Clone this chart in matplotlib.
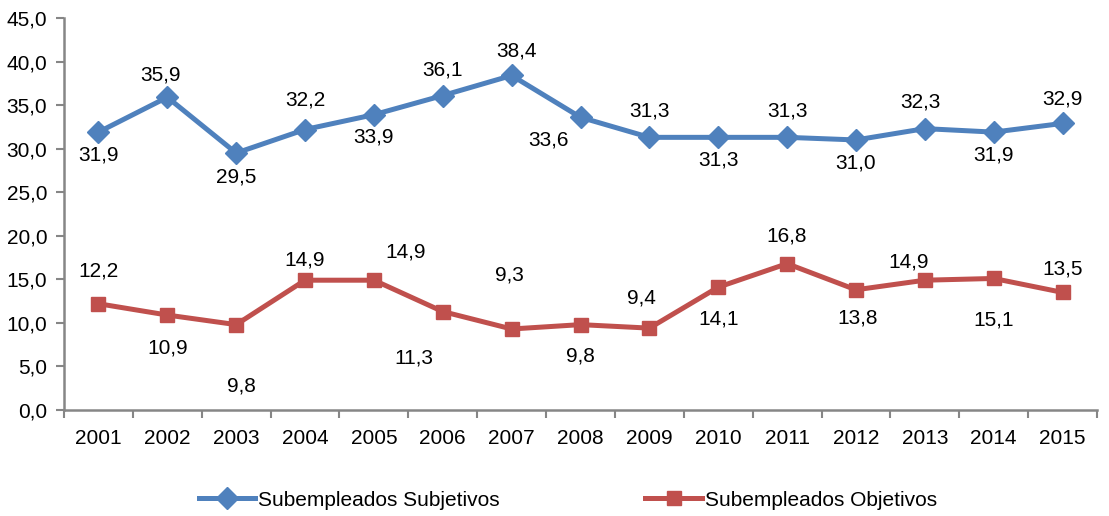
import numpy as np
import matplotlib.pyplot as plt
from matplotlib.ticker import FixedLocator, MultipleLocator, FuncFormatter

plt.rcParams['font.family'] = ['Liberation Sans Narrow', 'Liberation Sans', 'DejaVu Sans']

# Data
years = [str(y) for y in range(2001, 2016)]
subjetivos = [31.9, 35.9, 29.5, 32.2, 33.9, 36.1, 38.4, 33.6, 31.3, 31.3, 31.3, 31.0, 32.3, 31.9, 32.9]
objetivos = [12.2, 10.9, 9.8, 14.9, 14.9, 11.3, 9.3, 9.8, 9.4, 14.1, 16.8, 13.8, 14.9, 15.1, 13.5]

# Label offsets in pixels (dx, dy image-down)
off_subj = [(0, 23), (-7, -22), (0, 24), (0, -30), (0, 22), (0, -26), (5, -24), (-32, 23),
            (0, -26), (0, 23), (0, -26), (0, 23), (-4, -27), (0, 23), (0, -24)]
off_obj = [(0, -33), (0, 33), (5, 61), (0, -20), (32, -28), (-29, 46), (-2, -54), (0, 31),
           (-8, -30), (0, 32), (0, -28), (2, 28), (-16, -18), (0, 42), (0, -23)]

blue = '#4F81BD'
red = '#C0504D'
axis_col = '#868686'
fs = 15

fig = plt.figure(figsize=(11.09, 5.16), dpi=100)
ax = fig.add_axes([64 / 1109, 1 - 410 / 516, (1097 - 64) / 1109, (410 - 18) / 516])

x = np.arange(len(years))
ax.plot(x, subjetivos, color=blue, lw=3.6, marker='D', ms=11, label='Subempleados Subjetivos')
ax.plot(x, objetivos, color=red, lw=3.6, marker='s', ms=10.5, label='Subempleados Objetivos')

fmt = lambda v: f'{v:.1f}'.replace('.', ',')
for xi, v, (dx, dy) in zip(x, subjetivos, off_subj):
    ax.annotate(fmt(v), (xi, v), xytext=(dx, -dy), textcoords='offset pixels',
                ha='center', va='center', fontsize=fs)
for xi, v, (dx, dy) in zip(x, objetivos, off_obj):
    ax.annotate(fmt(v), (xi, v), xytext=(dx, -dy), textcoords='offset pixels',
                ha='center', va='center', fontsize=fs)

ax.set_xlim(-0.5, len(years) - 0.5)
ax.set_ylim(0, 45)
ax.yaxis.set_major_locator(MultipleLocator(5))
ax.yaxis.set_major_formatter(FuncFormatter(lambda v, p: fmt(v)))
ax.set_xticks(x)
ax.set_xticklabels(years)
ax.xaxis.set_minor_locator(FixedLocator(np.arange(-0.5, len(years), 1.0)))
ax.tick_params(axis='x', which='major', length=0, pad=14, labelsize=fs)
ax.tick_params(axis='x', which='minor', length=6, width=1.5, color=axis_col, direction='out')
ax.tick_params(axis='y', length=6, width=1.5, color=axis_col, pad=6, labelsize=fs)

for s in ['top', 'right']:
    ax.spines[s].set_visible(False)
for s in ['left', 'bottom']:
    ax.spines[s].set_color(axis_col)
    ax.spines[s].set_linewidth(1.8)

fig.legend(loc='center', bbox_to_anchor=(0.512, 16 / 516), ncol=2, frameon=False,
           fontsize=fs, handlelength=2.7, handletextpad=0.15, columnspacing=7.0)

fig.savefig('out.png', dpi=100)
